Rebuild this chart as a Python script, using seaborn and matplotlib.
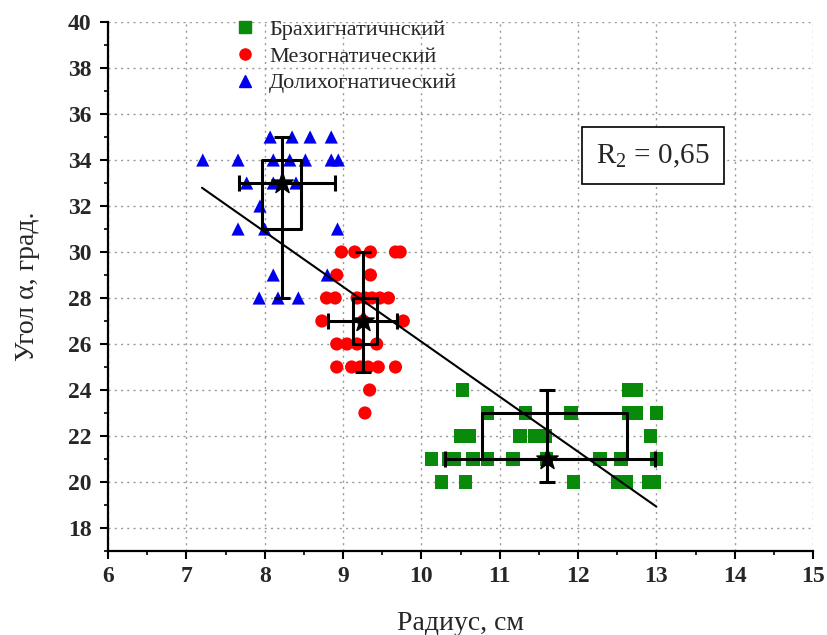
import numpy as np
import pandas as pd
import matplotlib
matplotlib.use("Agg")
import matplotlib.pyplot as plt
import seaborn as sns
from matplotlib.ticker import MultipleLocator
from matplotlib.lines import Line2D

# ---------------- data ----------------
groups = ["Брахигнатичнский", "Мезогнатический", "Долихогнатический"]

brachy_x = [10.53, 12.65, 12.75,
            10.84, 11.33, 11.91, 12.65, 12.75, 13.0,
            10.50, 10.62, 11.26, 11.45, 11.58, 12.93,
            10.13, 10.35, 10.42, 10.66, 10.84, 11.17, 11.6, 12.28, 12.55, 13.0,
            10.26, 10.56, 11.94, 12.5, 12.62, 12.9, 12.98]
brachy_y = [24, 24, 24,
            23, 23, 23, 23, 23, 23,
            22, 22, 22, 22, 22, 22,
            21, 21, 21, 21, 21, 21, 21, 21, 21, 21,
            20, 20, 20, 20, 20, 20, 20]

meso_x = [8.98, 9.15, 9.35, 9.67, 9.73,
          8.92, 9.35,
          8.79, 8.90, 9.18, 9.28, 9.37, 9.47, 9.58,
          8.73, 9.26, 9.77,
          8.92, 9.05, 9.18, 9.43,
          8.92, 9.11, 9.22, 9.32, 9.45, 9.67,
          9.34, 9.28]
meso_y = [30, 30, 30, 30, 30,
          29, 29,
          28, 28, 28, 28, 28, 28, 28,
          27, 27, 27,
          26, 26, 26, 26,
          25, 25, 25, 25, 25, 25,
          24, 23]

dolicho_x = [8.07, 8.35, 8.58, 8.85,
             7.21, 7.66, 8.11, 8.32, 8.52, 8.85, 8.94,
             7.77, 8.11, 8.40,
             7.94,
             7.66, 8.00, 8.93,
             8.11, 8.80,
             7.93, 8.17, 8.43]
dolicho_y = [35, 35, 35, 35,
             34, 34, 34, 34, 34, 34, 34,
             33, 33, 33,
             32,
             31, 31, 31,
             29, 29,
             28, 28, 28]

# summary statistics per group (order as in groups)
mean_x = [11.6, 9.26, 8.22]
mean_y = [21.0, 27.0, 33.0]
box_x_lo = [10.78, 9.13, 7.97]
box_x_hi = [12.62, 9.44, 8.46]
box_y_lo = [21.0, 26.0, 31.0]
box_y_hi = [23.0, 28.0, 34.0]
whisk_y_lo = [20.0, 24.8, 28.0]
whisk_y_hi = [24.0, 30.0, 35.0]
whisk_x_lo = [10.3, 8.81, 7.67]
whisk_x_hi = [12.98, 9.69, 8.90]

# regression line y = intercept + slope * x
reg_intercept = 50.0
reg_slope = -2.39
reg_x_range = [7.2, 13.0]
r2_text = "R$_2$ = 0,65"

x_ticks = list(range(6, 16))
y_ticks = list(range(18, 41, 2))

# ---------------- build table ----------------
df = pd.concat([
    pd.DataFrame({"x": brachy_x, "y": brachy_y, "g": groups[0]}),
    pd.DataFrame({"x": meso_x, "y": meso_y, "g": groups[1]}),
    pd.DataFrame({"x": dolicho_x, "y": dolicho_y, "g": groups[2]}),
], ignore_index=True)

palette = {groups[0]: "#0a8a0a", groups[1]: "#ff0000", groups[2]: "#0000ee"}
markers = {groups[0]: "s", groups[1]: "o", groups[2]: "^"}

sns.set_theme(style="white")
plt.rcParams["font.family"] = ["Liberation Serif", "DejaVu Serif"]
plt.rcParams["mathtext.fontset"] = "custom"
plt.rcParams["mathtext.rm"] = "Liberation Serif"

fig = plt.figure(figsize=(8.27, 6.35), dpi=100)
ax = fig.add_axes([108 / 827, 1 - 551 / 635, (813 - 108) / 827, (551 - 22) / 635])

sns.scatterplot(data=df, x="x", y="y", hue="g", style="g", palette=palette,
                markers=markers, s=90, linewidth=0, ax=ax, legend=False, zorder=3)

# regression line
xr = np.array(reg_x_range)
ax.plot(xr, reg_intercept + reg_slope * xr, color="black", lw=1.5, zorder=4)

# boxes, whiskers and means
for i in range(3):
    bx = [box_x_lo[i], box_x_hi[i], box_x_hi[i], box_x_lo[i], box_x_lo[i]]
    by = [box_y_lo[i], box_y_lo[i], box_y_hi[i], box_y_hi[i], box_y_lo[i]]
    ax.plot(bx, by, color="black", lw=2.2, zorder=5)
    ax.errorbar([mean_x[i]], [mean_y[i]],
                yerr=[[mean_y[i] - whisk_y_lo[i]], [whisk_y_hi[i] - mean_y[i]]],
                xerr=[[mean_x[i] - whisk_x_lo[i]], [whisk_x_hi[i] - mean_x[i]]],
                fmt="none", ecolor="black", elinewidth=2.2, capsize=6, capthick=2.2, zorder=5)
    ax.scatter([mean_x[i]], [mean_y[i]], marker="*", s=260, color="black", zorder=6)

# axes styling
ax.set_xlim(6, 15)
ax.set_ylim(17, 40)
ax.set_xticks(x_ticks)
ax.set_yticks(y_ticks)
ax.xaxis.set_minor_locator(MultipleLocator(0.5))
ax.yaxis.set_minor_locator(MultipleLocator(1))
ax.tick_params(axis="both", which="major", direction="out", length=6, width=1.5,
               labelsize=17, color="black", left=True, bottom=True)
ax.tick_params(axis="y", which="major", pad=6)
ax.tick_params(axis="x", which="major", pad=5)
ax.tick_params(axis="both", which="minor", direction="out", length=3, width=1.2,
               color="black", left=True, bottom=True)
for lab in ax.get_xticklabels() + ax.get_yticklabels():
    lab.set_fontweight("bold")
for side in ["top", "right"]:
    ax.spines[side].set_visible(False)
for side in ["left", "bottom"]:
    ax.spines[side].set_color("black")
    ax.spines[side].set_linewidth(1.6)
ax.grid(True, which="major", color="#999999", linestyle=(0, (1.5, 3)), lw=1)
ax.set_axisbelow(True)

ax.set_xlabel("Радиус, см", fontsize=20, labelpad=17)
ax.set_ylabel("Угол α, град.", fontsize=20, labelpad=20)

# legend
handles = [Line2D([], [], marker=markers[g], color=palette[g], linestyle="none",
                  markersize=8) for g in groups]
ax.legend(handles, groups, loc="upper left", bbox_to_anchor=(0.142, 1.043),
          frameon=False, fontsize=16, handletextpad=0.35, labelspacing=0.28,
          handlelength=1.5)

# R2 box
ax.text(0.773, 0.747, r2_text, transform=ax.transAxes, fontsize=21,
        ha="center", va="center",
        bbox=dict(boxstyle="square,pad=0.5", fc="white", ec="black", lw=1.2))

fig.savefig("out.png", dpi=100)
